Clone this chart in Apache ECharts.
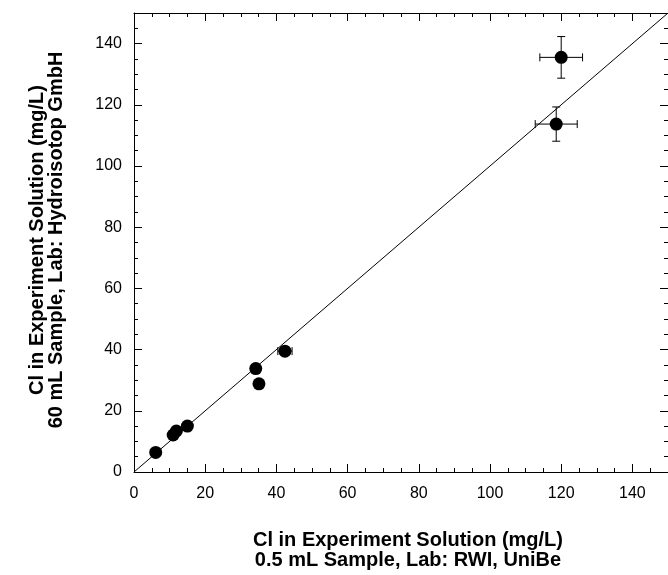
<!DOCTYPE html>
<html>
<head>
<meta charset="utf-8">
<script src="https://cdn.jsdelivr.net/npm/echarts@6/dist/echarts.min.js"></script>
<style>
  html, body { margin: 0; padding: 0; background: #fff; }
  #main { width: 668px; height: 575px; }
</style>
</head>
<body>
<div id="main"></div>
<script>
// Cl concentrations (mg/L): 0.5 mL sample (RWI, UniBe) vs 60 mL sample (Hydroisotop)
const clSmall = [6.1, 11.0, 11.9, 15.0, 34.2, 35.1, 42.4, 118.6, 120.0];
const clLarge = [6.4, 12.1, 13.4, 15.0, 33.8, 28.8, 39.5, 113.7, 135.5];
const errSmall = [0, 0, 0, 0, 0, 0, 2.0, 5.9, 6.0];
const errLarge = [0, 0, 0, 0, 0, 0, 0.8, 5.6, 6.8];
const oneToOne = [[0, 0], [150, 150]];
const axisMin = 0;
const axisMax = 150;

const FONT = "'Liberation Sans', Arial, sans-serif";

var chartDom = document.getElementById("main");
var myChart = echarts.init(chartDom);

// one axis per side for the long ticks, one for the short ticks
function makeAxis(position, major, labels) {
  return {
    type: "value",
    position: position,
    min: axisMin,
    max: axisMax,
    interval: major ? 20 : 5,
    axisLine: {
      show: major,
      onZero: false,
      lineStyle: { color: "#000", width: 1 },
    },
    axisTick: {
      show: true,
      inside: true,
      length: major ? 8 : 4,
      lineStyle: { color: "#000", width: 1 },
    },
    axisLabel: {
      show: labels,
      color: "#000",
      fontSize: 16,
      fontFamily: FONT,
      margin: position == "left" ? 12 : 14,
      showMaxLabel: false,
    },
    splitLine: { show: false },
  };
}

const errData = clSmall.map((v, i) => [v, clLarge[i], errSmall[i], errLarge[i]]);
const pointData = clSmall.map((v, i) => [v, clLarge[i]]);

const option = {
  animation: false,
  grid: { left: 134, top: 13, width: 538, height: 459, containLabel: false },
  xAxis: [
    makeAxis("bottom", true, true),
    makeAxis("bottom", false, false),
    makeAxis("top", true, false),
    makeAxis("top", false, false),
  ],
  yAxis: [
    makeAxis("left", true, true),
    makeAxis("left", false, false),
    makeAxis("right", true, false),
    makeAxis("right", false, false),
  ],
  graphic: [
    {
      type: "text",
      x: 408,
      y: 550,
      style: {
        text: "Cl in Experiment Solution (mg/L)\n0.5 mL Sample, Lab: RWI, UniBe",
        font: "bold 20px " + FONT,
        fill: "#000",
        align: "center",
        verticalAlign: "middle",
        lineHeight: 20,
      },
    },
    {
      type: "text",
      x: 47,
      y: 240,
      rotation: Math.PI / 2,
      style: {
        text: "Cl in Experiment Solution (mg/L)\n60 mL Sample, Lab: Hydroisotop GmbH",
        font: "bold 20px " + FONT,
        fill: "#000",
        align: "center",
        verticalAlign: "middle",
        lineHeight: 19,
      },
    },
  ],
  series: [
    {
      type: "line",
      data: oneToOne,
      symbol: "none",
      clip: true,
      silent: true,
      lineStyle: { color: "#000", width: 1 },
      z: 1,
    },
    {
      type: "custom",
      data: errData,
      clip: true,
      z: 2,
      renderItem: function (params, api) {
        const x = api.value(0);
        const y = api.value(1);
        const ex = api.value(2);
        const ey = api.value(3);
        const cap = 4;
        const st = { stroke: "#000", lineWidth: 1 };
        const children = [];
        if (ex > 0) {
          const l = api.coord([x - ex, y]);
          const r = api.coord([x + ex, y]);
          children.push({ type: "line", shape: { x1: l[0], y1: l[1], x2: r[0], y2: r[1] }, style: st });
          children.push({ type: "line", shape: { x1: l[0], y1: l[1] - cap, x2: l[0], y2: l[1] + cap }, style: st });
          children.push({ type: "line", shape: { x1: r[0], y1: r[1] - cap, x2: r[0], y2: r[1] + cap }, style: st });
        }
        if (ey > 0) {
          const t = api.coord([x, y + ey]);
          const b = api.coord([x, y - ey]);
          children.push({ type: "line", shape: { x1: t[0], y1: t[1], x2: b[0], y2: b[1] }, style: st });
          children.push({ type: "line", shape: { x1: t[0] - cap, y1: t[1], x2: t[0] + cap, y2: t[1] }, style: st });
          children.push({ type: "line", shape: { x1: b[0] - cap, y1: b[1], x2: b[0] + cap, y2: b[1] }, style: st });
        }
        return { type: "group", children: children };
      },
    },
    {
      type: "scatter",
      data: pointData,
      symbol: "circle",
      symbolSize: 13,
      itemStyle: { color: "#000", opacity: 1 },
      z: 3,
    },
  ],
};

option && myChart.setOption(option);
</script>
</body>
</html>
